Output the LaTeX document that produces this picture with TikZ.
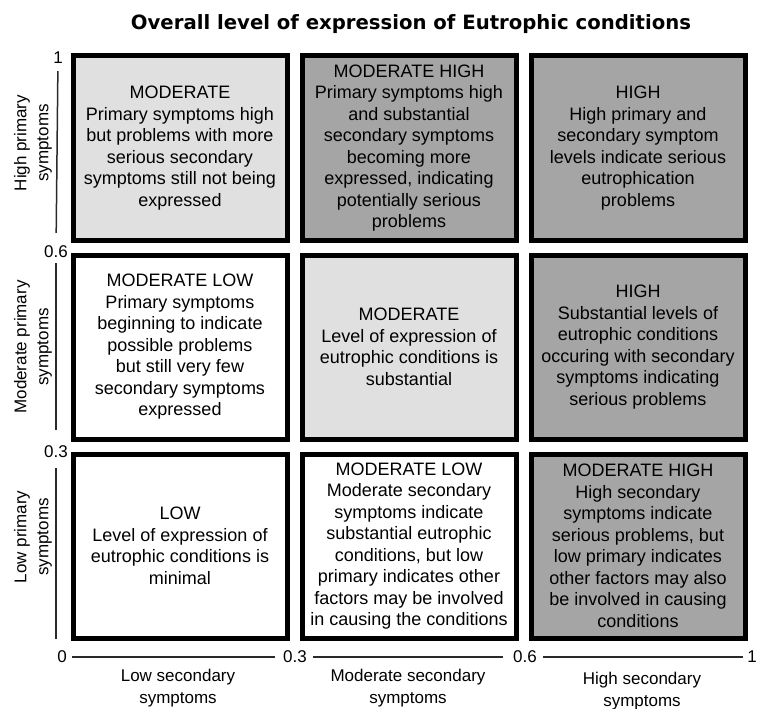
\documentclass[tikz,border=0pt]{standalone}
\usepackage{fontspec}
\usepackage{graphicx}
\setmainfont{Liberation Sans}
\newfontfamily\titlefont{DejaVu Sans}
\usepackage{tikz}
\usetikzlibrary{positioning}
\definecolor{lightlevel}{HTML}{E0E0E0}
\definecolor{darklevel}{HTML}{A5A5A5}
\definecolor{axisgray}{HTML}{2A2A2A}
\tikzset{
  levelbox/.style={draw, line width=5pt, fill=white, align=center, inner sep=2pt,
    minimum width=214pt, minimum height=184pt, font=\fontsize{18}{21.5}\selectfont},
  lightbox/.style={levelbox, fill=lightlevel},
  darkbox/.style={levelbox, fill=darklevel},
  ticklab/.style={inner sep=2pt, font=\fontsize{17}{20}\selectfont},
  axislab/.style={align=center, inner sep=0pt, font=\fontsize{17}{22}\selectfont},
  axisline/.style={line width=1.5pt, draw=axisgray}
}

\begin{document}
\begin{tikzpicture}[x=1pt, y=-1pt, node distance=10pt]
  \useasboundingbox (0,0) rectangle (758,709);
  \node[font=\titlefont\bfseries] (title) at (411,24)
    {\resizebox{560pt}{!}{Overall level of expression of Eutrophic conditions}};

  \node[lightbox] (modA) at (180,148) {MODERATE\\Primary symptoms high\\but problems with more\\serious secondary\\symptoms still not being\\expressed};
  \node[darkbox, right=of modA] (mhighA) {MODERATE HIGH\\Primary symptoms high\\and substantial\\secondary symptoms\\becoming more\\expressed, indicating\\potentially serious\\problems};
  \node[darkbox, right=of mhighA] (highA) {HIGH\\High primary and\\secondary symptom\\levels indicate serious\\eutrophication\\problems};
  \node[levelbox, below=of modA] (mlowA) {MODERATE LOW\\Primary symptoms\\beginning to indicate\\possible problems\\but still very few\\secondary symptoms\\expressed};
  \node[lightbox, right=of mlowA] (modB) {MODERATE\\Level of expression of\\eutrophic conditions is\\substantial};
  \node[darkbox, right=of modB] (highB) {HIGH\\Substantial levels of\\eutrophic conditions\\occuring with secondary\\symptoms indicating\\serious problems};
  \node[levelbox, below=of mlowA] (low) {LOW\\Level of expression of\\eutrophic conditions is\\minimal};
  \node[levelbox, right=of low] (mlowB) {MODERATE LOW\\Moderate secondary\\symptoms indicate\\substantial eutrophic\\conditions, but low\\primary indicates other\\factors may be involved\\in causing the conditions};
  \node[darkbox, right=of mlowB] (mhighB) {MODERATE HIGH\\High secondary\\symptoms indicate\\serious problems, but\\low primary indicates\\other factors may also\\be involved in causing\\conditions};

  \node[ticklab] (ytA) at (58,58) {1};
  \node[ticklab] (ytB) at (56,252) {0.6};
  \node[ticklab] (ytC) at (56,452) {0.3};
  \node[ticklab] (orig) at (62,657) {0};
  \node[ticklab] (xtA) at (295,657) {0.3};
  \node[ticklab] (xtB) at (525,657) {0.6};
  \node[ticklab] (xtC) at (752,657) {1};
  \draw[axisline, shorten <=5pt, shorten >=11pt] (ytA) -- (ytB);
  \draw[axisline, shorten <=3pt, shorten >=14pt] (ytB) -- (ytC);
  \draw[axisline, shorten <=8pt, shorten >=18pt] (ytC) -- (ytC |- orig);
  \draw[axisline, shorten <=3pt, shorten >=6pt] (orig) -- (xtA);
  \draw[axisline, shorten <=4pt, shorten >=8pt] (xtA) -- (xtB);
  \draw[axisline, shorten <=4pt, shorten >=2pt] (xtB) -- (xtC);

  \node[axislab, rotate=90] (hiprim) at (33,143) {High primary\\symptoms};
  \node[axislab, rotate=90] (modprim) at (33,347) {Moderate primary\\symptoms};
  \node[axislab, rotate=90] (loprim) at (33,537) {Low primary\\symptoms};
  \node[axislab] (losec) at (178,688) {Low secondary\\symptoms};
  \node[axislab] (modsec) at (408,688) {Moderate secondary\\symptoms};
  \node[axislab] (hisec) at (642,691) {High secondary\\symptoms};
\end{tikzpicture}
\end{document}
